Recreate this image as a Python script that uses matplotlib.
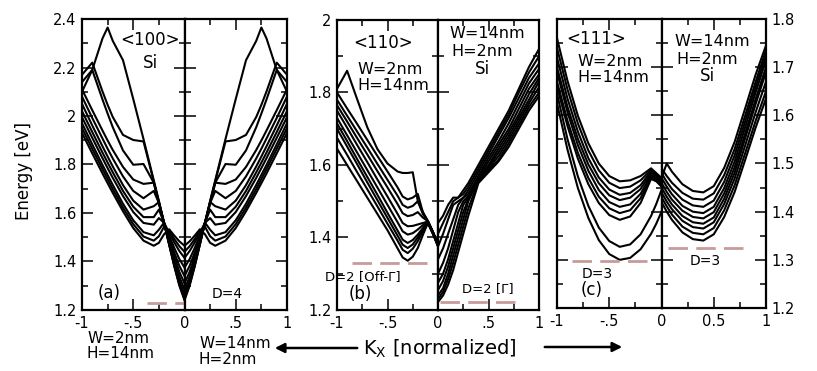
import matplotlib
matplotlib.use("Agg")
import matplotlib.pyplot as plt
import matplotlib.patches as mpatches
from matplotlib.ticker import MultipleLocator, FixedLocator, FuncFormatter

W, H = 817, 371

# ---- panel (a) <100>: left half W=2nm H=14nm, right half is its mirror image
k_a = [-1, -0.9, -0.8, -0.75, -0.7, -0.6, -0.5, -0.4, -0.3, -0.25, -0.2, -0.15, -0.1, -0.05, 0]
e_a = [
    [2.10, 2.19, 2.32, 2.365, 2.31, 2.23, 2.07, 1.905, 1.735, 1.65, 1.56, 1.47, 1.38, 1.30, 1.24],
    [2.17, 2.22, 2.101, 2.046, 1.996, 1.922, 1.901, 1.895, 1.73, 1.647, 1.56, 1.47, 1.384, 1.305, 1.245],
    [2.14, 2.19, 2.068, 2.01, 1.954, 1.858, 1.799, 1.802, 1.725, 1.643, 1.56, 1.473, 1.386, 1.309, 1.25],
    [2.11, 2.024, 1.94, 1.899, 1.86, 1.79, 1.738, 1.72, 1.725, 1.64, 1.56, 1.477, 1.395, 1.32, 1.265],
    [2.08, 1.992, 1.907, 1.865, 1.825, 1.751, 1.691, 1.661, 1.691, 1.641, 1.56, 1.483, 1.406, 1.337, 1.285],
    [2.05, 1.961, 1.875, 1.833, 1.792, 1.715, 1.651, 1.614, 1.628, 1.645, 1.56, 1.49, 1.42, 1.357, 1.31],
    [2.02, 1.934, 1.849, 1.808, 1.768, 1.691, 1.626, 1.583, 1.583, 1.614, 1.56, 1.498, 1.437, 1.382, 1.34],
    [1.995, 1.91, 1.826, 1.785, 1.745, 1.67, 1.604, 1.559, 1.552, 1.579, 1.56, 1.508, 1.456, 1.41, 1.375],
    [1.97, 1.883, 1.798, 1.757, 1.716, 1.638, 1.57, 1.521, 1.508, 1.531, 1.56, 1.519, 1.479, 1.443, 1.415],
    [1.95, 1.865, 1.781, 1.74, 1.699, 1.622, 1.554, 1.503, 1.486, 1.504, 1.543, 1.526, 1.493, 1.463, 1.44],
    [1.93, 1.846, 1.763, 1.723, 1.683, 1.607, 1.538, 1.486, 1.465, 1.477, 1.512, 1.533, 1.507, 1.483, 1.465],
]

# ---- panel (b) <110>
k_b_left = [-1, -0.9, -0.8, -0.7, -0.6, -0.5, -0.4, -0.35, -0.3, -0.25, -0.2, -0.15, -0.1, -0.05, 0]
e_b_left = [
    [1.81, 1.86, 1.781, 1.704, 1.644, 1.604, 1.582, 1.578, 1.578, 1.58, 1.50, 1.47, 1.445, 1.415, 1.38],
    [1.80, 1.756, 1.713, 1.669, 1.625, 1.582, 1.538, 1.513, 1.505, 1.51, 1.52, 1.47, 1.445, 1.415, 1.38],
    [1.78, 1.736, 1.692, 1.648, 1.603, 1.559, 1.515, 1.49, 1.482, 1.487, 1.50, 1.465, 1.445, 1.415, 1.382],
    [1.765, 1.72, 1.674, 1.629, 1.583, 1.538, 1.492, 1.467, 1.459, 1.462, 1.47, 1.455, 1.445, 1.415, 1.38],
    [1.75, 1.703, 1.655, 1.608, 1.56, 1.513, 1.465, 1.44, 1.431, 1.432, 1.436, 1.44, 1.444, 1.414, 1.38],
    [1.73, 1.682, 1.634, 1.586, 1.538, 1.49, 1.442, 1.417, 1.408, 1.412, 1.422, 1.434, 1.443, 1.413, 1.379],
    [1.715, 1.666, 1.616, 1.567, 1.518, 1.468, 1.419, 1.394, 1.385, 1.393, 1.408, 1.426, 1.442, 1.412, 1.378],
    [1.70, 1.651, 1.602, 1.552, 1.503, 1.454, 1.405, 1.38, 1.371, 1.381, 1.40, 1.422, 1.441, 1.411, 1.377],
    [1.675, 1.628, 1.58, 1.533, 1.486, 1.438, 1.391, 1.366, 1.357, 1.369, 1.39, 1.417, 1.44, 1.41, 1.377],
    [1.645, 1.60, 1.555, 1.51, 1.465, 1.42, 1.37, 1.345, 1.336, 1.347, 1.371, 1.407, 1.44, 1.41, 1.375],
]
k_b_right = [0, 0.05, 0.1, 0.15, 0.2, 0.25, 0.3, 0.4, 0.5, 0.6, 0.7, 0.8, 0.9, 1]
e_b_right = [
    [1.44, 1.46, 1.49, 1.51, 1.51, 1.53, 1.55, 1.60, 1.65, 1.70, 1.75, 1.81, 1.87, 1.92],
    [1.41, 1.44, 1.47, 1.50, 1.51, 1.52, 1.54, 1.59, 1.64, 1.69, 1.74, 1.80, 1.855, 1.90],
    [1.375, 1.41, 1.45, 1.49, 1.50, 1.51, 1.53, 1.58, 1.63, 1.68, 1.73, 1.785, 1.84, 1.88],
    [1.34, 1.37, 1.41, 1.45, 1.49, 1.51, 1.52, 1.57, 1.62, 1.665, 1.715, 1.77, 1.825, 1.865],
    [1.30, 1.33, 1.37, 1.42, 1.47, 1.50, 1.515, 1.565, 1.61, 1.655, 1.70, 1.755, 1.81, 1.85],
    [1.275, 1.30, 1.34, 1.39, 1.44, 1.49, 1.51, 1.56, 1.60, 1.645, 1.69, 1.74, 1.795, 1.84],
    [1.255, 1.28, 1.32, 1.37, 1.42, 1.47, 1.505, 1.56, 1.595, 1.635, 1.68, 1.73, 1.78, 1.83],
    [1.24, 1.26, 1.30, 1.35, 1.40, 1.45, 1.50, 1.56, 1.59, 1.625, 1.67, 1.72, 1.77, 1.815],
    [1.23, 1.25, 1.285, 1.33, 1.38, 1.43, 1.48, 1.555, 1.585, 1.615, 1.66, 1.71, 1.76, 1.80],
    [1.222, 1.24, 1.27, 1.31, 1.36, 1.41, 1.46, 1.55, 1.58, 1.61, 1.65, 1.70, 1.75, 1.79],
]

# ---- panel (c) <111>
k_c_left = [-1, -0.9, -0.8, -0.7, -0.6, -0.5, -0.4, -0.3, -0.2, -0.1, -0.05, 0]
e_c_left = [
    [1.76, 1.672, 1.599, 1.542, 1.50, 1.474, 1.463, 1.465, 1.474, 1.49, 1.48, 1.47],
    [1.74, 1.654, 1.583, 1.527, 1.486, 1.46, 1.449, 1.452, 1.465, 1.487, 1.478, 1.468],
    [1.72, 1.635, 1.566, 1.511, 1.471, 1.446, 1.435, 1.439, 1.455, 1.484, 1.476, 1.466],
    [1.70, 1.618, 1.551, 1.498, 1.459, 1.434, 1.424, 1.429, 1.447, 1.48, 1.474, 1.463],
    [1.69, 1.607, 1.538, 1.485, 1.445, 1.42, 1.41, 1.415, 1.437, 1.476, 1.47, 1.46],
    [1.67, 1.589, 1.522, 1.47, 1.431, 1.407, 1.397, 1.403, 1.428, 1.472, 1.466, 1.456],
    [1.66, 1.578, 1.51, 1.457, 1.418, 1.393, 1.383, 1.39, 1.418, 1.468, 1.463, 1.452],
    [1.645, 1.551, 1.473, 1.412, 1.367, 1.339, 1.327, 1.332, 1.353, 1.391, 1.416, 1.445],
    [1.625, 1.529, 1.449, 1.387, 1.341, 1.312, 1.30, 1.304, 1.322, 1.354, 1.375, 1.40],
]
k_c_right = [0, 0.05, 0.1, 0.2, 0.3, 0.4, 0.5, 0.6, 0.7, 0.8, 0.9, 1]
e_c_right = [
    [1.47, 1.50, 1.483, 1.457, 1.443, 1.44, 1.453, 1.491, 1.545, 1.614, 1.684, 1.745],
    [1.49, 1.474, 1.46, 1.439, 1.427, 1.425, 1.438, 1.476, 1.53, 1.599, 1.669, 1.735],
    [1.48, 1.462, 1.447, 1.425, 1.413, 1.41, 1.423, 1.462, 1.517, 1.587, 1.658, 1.725],
    [1.47, 1.452, 1.436, 1.412, 1.40, 1.397, 1.41, 1.449, 1.504, 1.575, 1.647, 1.715],
    [1.46, 1.441, 1.425, 1.402, 1.389, 1.386, 1.399, 1.438, 1.492, 1.562, 1.633, 1.70],
    [1.45, 1.431, 1.415, 1.391, 1.378, 1.375, 1.388, 1.427, 1.481, 1.552, 1.623, 1.69],
    [1.44, 1.421, 1.405, 1.381, 1.368, 1.365, 1.378, 1.416, 1.469, 1.537, 1.606, 1.67],
    [1.43, 1.411, 1.394, 1.369, 1.356, 1.353, 1.366, 1.403, 1.455, 1.521, 1.588, 1.65],
    [1.42, 1.40, 1.383, 1.357, 1.343, 1.34, 1.353, 1.389, 1.441, 1.507, 1.574, 1.635],
]

# degeneracy markers (dashed): k range and energy
dash_a = ([-0.37, 0.44], 1.23)
dash_b_left = ([-0.85, -0.05], 1.33)
dash_b_right = ([0.02, 0.84], 1.222)
dash_c_left = ([-0.86, -0.06], 1.297)
dash_c_right = ([0.06, 0.85], 1.324)

DASH_COLOR = "#c99a9a"
fig = plt.figure(figsize=(W / 100, H / 100), dpi=100)


def half(x0, y0, x1, y1, ylim, ymaj, ymin, side):
    ax = fig.add_axes([x0 / W, 1 - y1 / H, (x1 - x0) / W, (y1 - y0) / H])
    for s in ax.spines.values():
        s.set_linewidth(1.6)
    ax.set_ylim(*ylim)
    ax.yaxis.set_major_locator(MultipleLocator(ymaj))
    ax.yaxis.set_minor_locator(MultipleLocator(ymin))
    ax.yaxis.set_major_formatter(FuncFormatter(lambda v, p: "%g" % round(v, 2)))
    ax.tick_params(which="both", direction="in", top=True, right=True,
                   width=1.1, labelsize=10.5, pad=4, labelleft=False)
    ax.tick_params(which="major", length=8)
    ax.tick_params(which="minor", length=4.5)
    if side == "L":
        ax.set_xlim(-1, 0)
        ax.xaxis.set_major_locator(FixedLocator([-1, -0.5, 0]))
        ax.xaxis.set_minor_locator(FixedLocator([-0.75, -0.25]))
    else:
        ax.set_xlim(0, 1)
        ax.xaxis.set_major_locator(FixedLocator([0, 0.5, 1]))
        ax.xaxis.set_minor_locator(FixedLocator([0.25, 0.75]))
    return ax


def curves(ax, k, bands):
    for e in bands:
        ax.plot(k, e, color="k", lw=1.5)


def dashed(ax, d):
    ks, e = d
    ax.plot(ks, [e, e], color=DASH_COLOR, lw=2, dashes=(7, 3), clip_on=False, zorder=5)


# panel (a)
a_l = half(82, 19, 184.5, 310, (1.2, 2.4), 0.2, 0.1, "L")
a_r = half(184.5, 19, 287, 310, (1.2, 2.4), 0.2, 0.1, "R")
curves(a_l, k_a, e_a)
curves(a_r, [-k for k in k_a], e_a)
dashed(a_l, dash_a)
a_l.tick_params(labelleft=True)
a_l.set_xticklabels(["-1", "-.5", "0"])
a_r.set_xticklabels(["", ".5", "1"])

# panel (b)
b_l = half(337, 20, 438, 310, (1.2, 2.0), 0.2, 0.1, "L")
b_r = half(438, 20, 539, 310, (1.2, 2.0), 0.2, 0.1, "R")
curves(b_l, k_b_left, e_b_left)
curves(b_r, k_b_right, e_b_right)
dashed(b_l, dash_b_left)
dashed(b_r, dash_b_right)
b_l.tick_params(labelleft=True)
b_l.set_xticklabels(["-1", "-.5", "0"])
b_r.set_xticklabels(["", ".5", "1"])

# panel (c)
c_l = half(557, 19, 661.5, 308, (1.2, 1.8), 0.1, 0.05, "L")
c_r = half(661.5, 19, 766, 308, (1.2, 1.8), 0.1, 0.05, "R")
curves(c_l, k_c_left, e_c_left)
curves(c_r, k_c_right, e_c_right)
dashed(c_l, dash_c_left)
dashed(c_r, dash_c_right)
c_r.tick_params(labelright=True)
c_l.set_xticklabels(["-1", "-.5", "0"])
c_r.set_xticklabels(["", "0.5", "1"])


def txt(x, y, s, size=11.5, ha="left", va="center", **kw):
    fig.text(x / W, 1 - y / H, s, fontsize=size, ha=ha, va=va, **kw)


# annotations inside the panels
txt(150, 40, "<100>", 12, "center")
txt(150, 63, "Si", 12, "center")
txt(109, 293, "(a)", 12, "center")
txt(227, 294, "D=4", 10, "center")

txt(383, 43, "<110>", 12, "center")
txt(357, 69, "W=2nm", 11.5)
txt(357, 85, "H=14nm", 11.5)
txt(449, 34, "W=14nm", 11.5)
txt(451, 51, "H=2nm", 11.5)
txt(482, 69, "Si", 12, "center")
txt(325, 277, "D=2 [Off-Γ]", 9.5)
txt(360, 294, "(b)", 12, "center")
txt(462, 289, "D=2 [Γ]", 9.5)

txt(596, 39, "<111>", 12, "center")
txt(577, 62, "W=2nm", 11.5)
txt(577, 78, "H=14nm", 11.5)
txt(674, 42, "W=14nm", 11.5)
txt(676, 59, "H=2nm", 11.5)
txt(707, 76, "Si", 12, "center")
txt(582, 274, "D=3", 10)
txt(592, 290, "(c)", 12, "center")
txt(690, 261, "D=3", 10)

# axis titles and bottom notes
fig.text(24 / W, 1 - 171 / H, "Energy [eV]", fontsize=12, rotation=90, ha="center", va="center")
txt(87, 343, "W=2nm", 11, va="baseline")
txt(87, 358, "H=14nm", 11, va="baseline")
txt(199, 348, "W=14nm", 11, va="baseline")
txt(199, 364, "H=2nm", 11, va="baseline")
txt(363, 349, r"K$_\mathregular{X}$ [normalized]", 14)

fig.add_artist(mpatches.FancyArrowPatch((360 / W, 1 - 348 / H), (272 / W, 1 - 348 / H),
                                        transform=fig.transFigure, arrowstyle="-|>",
                                        mutation_scale=14, lw=1.8, color="k"))
fig.add_artist(mpatches.FancyArrowPatch((542 / W, 1 - 347 / H), (625 / W, 1 - 347 / H),
                                        transform=fig.transFigure, arrowstyle="-|>",
                                        mutation_scale=14, lw=1.8, color="k"))

fig.savefig("out.png", dpi=100)
